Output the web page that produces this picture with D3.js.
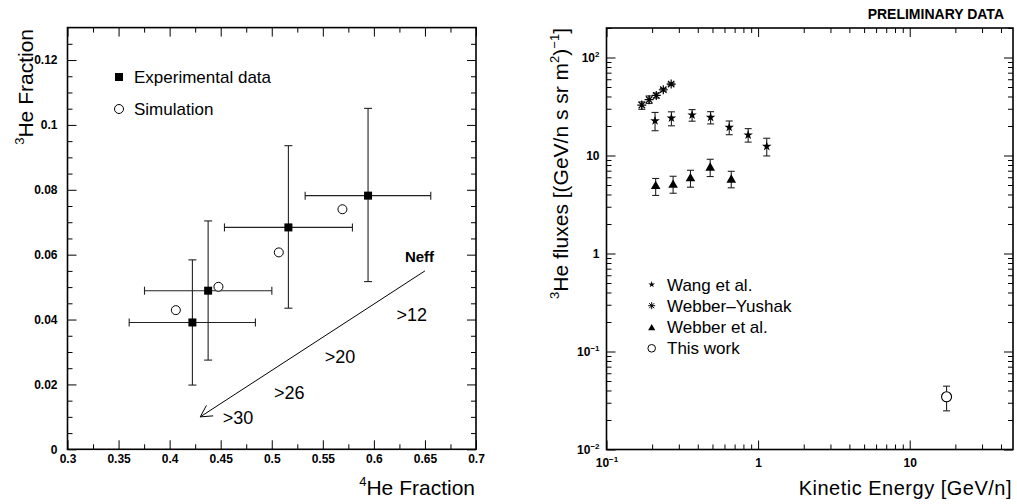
<!DOCTYPE html>
<html>
<head>
<meta charset="utf-8">
<script src="https://cdn.jsdelivr.net/npm/d3@7"></script>
<style>
  html, body { margin: 0; padding: 0; background: #fff; }
  svg { display: block; font-family: "Liberation Sans", Arial, Helvetica, sans-serif; }
  .tick text { font-family: "Liberation Sans", Arial, Helvetica, sans-serif; font-weight: bold; font-size: 12px; fill: #000; }
  .tick line { stroke: #000; stroke-width: 1; }
</style>
</head>
<body>
<svg class="chart" width="1017" height="504"></svg>
<script>
// ---- left panel: 3He fraction vs 4He fraction ----
const expHe4 = [0.4223, 0.4377, 0.5163, 0.5943];
const expHe3 = [0.0391, 0.0489, 0.0684, 0.0782];
const expHe4Lo = [0.3604, 0.3754, 0.4537, 0.5327];
const expHe4Hi = [0.4840, 0.5001, 0.5790, 0.6557];
const expHe3Lo = [0.0198, 0.0275, 0.0435, 0.0517];
const expHe3Hi = [0.0584, 0.0704, 0.0936, 0.1051];

const simHe4 = [0.4061, 0.4478, 0.5069, 0.5692];
const simHe3 = [0.0429, 0.0501, 0.0607, 0.0740];

const neffLabels = ['>12', '>20', '>26', '>30'];
const neffX = [0.6222, 0.552, 0.5021, 0.4519];
const neffY = [0.0396, 0.0265, 0.0155, 0.0077];
const arrowFrom = [0.65, 0.055];
const arrowTo = [0.43, 0.0100];

const he4Ticks = [0.3, 0.35, 0.4, 0.45, 0.5, 0.55, 0.6, 0.65, 0.7];
const he4Minor = [0.325, 0.375, 0.425, 0.475, 0.525, 0.575, 0.625, 0.675];
const he3Ticks = [0, 0.02, 0.04, 0.06, 0.08, 0.1, 0.12];
const he3Minor = [0.005, 0.01, 0.015, 0.025, 0.03, 0.035, 0.045, 0.05, 0.055,
  0.065, 0.07, 0.075, 0.085, 0.09, 0.095, 0.105, 0.11, 0.115, 0.125];

// ---- right panel: 3He fluxes vs kinetic energy ----
const wangE = [0.209, 0.268, 0.367, 0.486, 0.645, 0.86, 1.14];
const wangFlux = [22.6, 24.1, 25.9, 24.5, 19.4, 16.2, 12.4];
const wangHi = [27.5, 27.9, 29.4, 28.0, 22.5, 18.8, 15.0];
const wangLo = [17.9, 20.1, 22.4, 21.0, 16.3, 13.7, 9.9];

const yushakE = [0.171, 0.191, 0.213, 0.237, 0.267];
const yushakFlux = [32.7, 37.1, 41.0, 46.9, 53.6];
const yushakHi = [35.2, 40.5, 43.4, 48.4, 55.0];
const yushakLo = [29.6, 34.0, 38.6, 45.4, 52.2];

const webberE = [0.211, 0.275, 0.358, 0.483, 0.665];
const webberFlux = [4.86, 5.0, 5.82, 7.47, 5.64];
const webberHi = [5.83, 6.14, 7.07, 9.15, 6.90];
const webberLo = [3.91, 4.12, 4.75, 6.10, 4.68];

const thisE = [17.5];
const thisFlux = [0.0345];
const thisHi = [0.0443];
const thisLo = [0.0248];

const energyTicks = [0.1, 1, 10];
const fluxTicks = [0.01, 0.1, 1, 10, 100];

const svg = d3.select('.chart');

const xL = d3.scaleLinear().domain([0.3, 0.7]).range([67.5, 476]);
const yL = d3.scaleLinear().domain([0, 0.13]).range([449.3, 27.6]);
const xR = d3.scaleLog().domain([0.1, 48]).range([606.5, 1013]);
const yR = d3.scaleLog().domain([0.01, 200]).range([449.5, 28]);

function powerLabel(text, d) {
  const e = Math.round(Math.log10(d));
  text.text(null);
  if (e === 0) { text.text('1'); return; }
  if (e === 1) { text.text('10'); return; }
  text.append('tspan').text('10');
  text.append('tspan').attr('dy', -5).attr('font-size', '8px').text(e < 0 ? `\u2212${-e}` : e);
}

function drawAxes(g, x, y, cfg) {
  const [x0, x1] = x.range();
  const [y0, y1] = y.range();
  const sides = [
    { axis: d3.axisBottom, scale: x, pos: `translate(0,${y0})`, major: cfg.xMajor, minor: cfg.xMinor, pad: cfg.xPad, fmt: cfg.xFmt },
    { axis: d3.axisTop, scale: x, pos: `translate(0,${y1})`, major: cfg.xMajor, minor: cfg.xMinor },
    { axis: d3.axisLeft, scale: y, pos: `translate(${x0},0)`, major: cfg.yMajor, minor: cfg.yMinor, pad: cfg.yPad, fmt: cfg.yFmt },
    { axis: d3.axisRight, scale: y, pos: `translate(${x1},0)`, major: cfg.yMajor, minor: cfg.yMinor },
  ];
  sides.forEach((s) => {
    const a = g.append('g').attr('transform', s.pos);
    a.append('g')
      .call(s.axis(s.scale).tickValues(s.minor).tickSize(-5).tickFormat(() => ''));
    const major = a.append('g')
      .call(s.axis(s.scale).tickValues(s.major).tickSize(-9).tickPadding(s.pad || 0)
        .tickFormat(s.fmt && !cfg.log ? s.fmt : () => ''));
    if (s.fmt && cfg.log) {
      major.selectAll('.tick text').each(function (d) { powerLabel(d3.select(this), d); });
    }
    a.selectAll('.domain').remove();
  });
  g.append('rect')
    .attr('x', x0).attr('y', y1)
    .attr('width', x1 - x0).attr('height', y0 - y1)
    .attr('fill', 'none').attr('stroke', '#000').attr('stroke-width', 1.6);
}

function errorBars(g, pts, cap, vertical) {
  const bars = g.append('g').attr('stroke', '#222').attr('stroke-width', 1.1);
  pts.forEach((p) => {
    if (vertical) {
      bars.append('line').attr('x1', p.c).attr('x2', p.c).attr('y1', p.lo).attr('y2', p.hi);
      bars.append('line').attr('x1', p.c - cap).attr('x2', p.c + cap).attr('y1', p.lo).attr('y2', p.lo);
      bars.append('line').attr('x1', p.c - cap).attr('x2', p.c + cap).attr('y1', p.hi).attr('y2', p.hi);
    } else {
      bars.append('line').attr('y1', p.c).attr('y2', p.c).attr('x1', p.lo).attr('x2', p.hi);
      bars.append('line').attr('y1', p.c - cap).attr('y2', p.c + cap).attr('x1', p.lo).attr('x2', p.lo);
      bars.append('line').attr('y1', p.c - cap).attr('y2', p.c + cap).attr('x1', p.hi).attr('x2', p.hi);
    }
  });
}

function asterisk(r) {
  const q = r * 0.7071;
  return `M${-r},0L${r},0M0,${-r}L0,${r}M${-q},${-q}L${q},${q}M${-q},${q}L${q},${-q}`;
}

// title with superscripts; size is the font size in px
function supText(sel, parts, size) {
  const lift = Math.round(size * 0.42);
  let raised = false;
  sel.attr('font-size', size);
  parts.forEach((p) => {
    if (p.sup) {
      sel.append('tspan').attr('dy', raised ? 0 : -lift).attr('font-size', Math.round(size * 0.62)).text(p.sup);
      raised = true;
    } else {
      sel.append('tspan').attr('dy', raised ? lift : 0).text(p.t);
      raised = false;
    }
  });
}

// ================= left panel =================
const left = svg.append('g');
drawAxes(left, xL, yL, {
  xMajor: he4Ticks, xMinor: he4Minor, xPad: 5, xFmt: d => String(+d.toFixed(2)),
  yMajor: he3Ticks, yMinor: he3Minor, yPad: 10, yFmt: d => String(+d.toFixed(2)),
});

const expPts = expHe4.map((v, i) => ({
  x: xL(v), y: yL(expHe3[i]),
  x0: xL(expHe4Lo[i]), x1: xL(expHe4Hi[i]),
  y0: yL(expHe3Lo[i]), y1: yL(expHe3Hi[i]),
}));
errorBars(left, expPts.map(p => ({ c: p.y, lo: p.x0, hi: p.x1 })), 4, false);
errorBars(left, expPts.map(p => ({ c: p.x, lo: p.y0, hi: p.y1 })), 4, true);

left.selectAll('.sim')
  .data(simHe4)
  .enter()
  .append('circle')
  .attr('cx', d => xL(d))
  .attr('cy', (d, i) => yL(simHe3[i]))
  .attr('r', 4.5)
  .attr('fill', '#fff')
  .attr('stroke', '#000')
  .attr('stroke-width', 1);

left.selectAll('.exp')
  .data(expPts)
  .enter()
  .append('rect')
  .attr('x', d => d.x - 4)
  .attr('y', d => d.y - 4)
  .attr('width', 8)
  .attr('height', 8)
  .attr('fill', '#000');

// Neff arrow
const ax0 = xL(arrowFrom[0]);
const ay0 = yL(arrowFrom[1]);
const ax1 = xL(arrowTo[0]);
const ay1 = yL(arrowTo[1]);
const ang = Math.atan2(ay0 - ay1, ax0 - ax1);
const headLen = 13;
left.append('path')
  .attr('d', `M${ax0},${ay0}L${ax1},${ay1}`
    + `M${ax1 + headLen * Math.cos(ang + 0.5)},${ay1 + headLen * Math.sin(ang + 0.5)}L${ax1},${ay1}`
    + `L${ax1 + headLen * Math.cos(ang - 0.5)},${ay1 + headLen * Math.sin(ang - 0.5)}`)
  .attr('fill', 'none')
  .attr('stroke', '#000')
  .attr('stroke-width', 1);

left.append('text')
  .attr('x', xL(0.6304)).attr('y', yL(0.0578))
  .attr('font-size', 15).attr('font-weight', 'bold')
  .text('Neff');

left.selectAll('.neff')
  .data(neffLabels)
  .enter()
  .append('text')
  .attr('x', (d, i) => xL(neffX[i]))
  .attr('y', (d, i) => yL(neffY[i]))
  .attr('font-size', 18)
  .text(d => d);

// legend
left.append('rect').attr('x', 115).attr('y', 73).attr('width', 8).attr('height', 8).attr('fill', '#000');
left.append('text').attr('x', 134).attr('y', 83).attr('font-size', 17).text('Experimental data');
left.append('circle').attr('cx', 119).attr('cy', 109).attr('r', 4.5)
  .attr('fill', '#fff').attr('stroke', '#000');
left.append('text').attr('x', 134).attr('y', 115).attr('font-size', 17).text('Simulation');

// titles
const l4 = left.append('text').attr('x', 475).attr('y', 495).attr('text-anchor', 'end');
supText(l4, [{ sup: '4' }, { t: 'He Fraction' }], 21);
const l3 = left.append('text').attr('transform', 'translate(33,29) rotate(-90)').attr('text-anchor', 'end');
supText(l3, [{ sup: '3' }, { t: 'He Fraction' }], 21);

// ================= right panel =================
const right = svg.append('g');
drawAxes(right, xR, yR, {
  log: true,
  xMajor: energyTicks, xMinor: xR.ticks().filter(d => !energyTicks.includes(d)), xPad: 9, xFmt: true,
  yMajor: fluxTicks, yMinor: yR.ticks().filter(d => !fluxTicks.includes(d)), yPad: 7, yFmt: true,
});

const seriesPts = (es, fs, his, los) => es.map((e, i) => ({
  x: xR(e), y: yR(fs[i]), hi: yR(his[i]), lo: yR(los[i]),
}));
const wangPts = seriesPts(wangE, wangFlux, wangHi, wangLo);
const yushakPts = seriesPts(yushakE, yushakFlux, yushakHi, yushakLo);
const webberPts = seriesPts(webberE, webberFlux, webberHi, webberLo);
const thisPts = seriesPts(thisE, thisFlux, thisHi, thisLo);

[wangPts, yushakPts, webberPts, thisPts].forEach((pts) => {
  errorBars(right, pts.map(p => ({ c: p.x, lo: p.lo, hi: p.hi })), 3.5, true);
});

right.selectAll('.wang')
  .data(wangPts)
  .enter()
  .append('path')
  .attr('transform', d => `translate(${d.x},${d.y})`)
  .attr('d', d3.symbol(d3.symbolStar, 28))
  .attr('fill', '#000');

right.selectAll('.yushak')
  .data(yushakPts)
  .enter()
  .append('path')
  .attr('transform', d => `translate(${d.x},${d.y})`)
  .attr('d', asterisk(4.5))
  .attr('stroke', '#000')
  .attr('stroke-width', 1.2);

right.selectAll('.webber')
  .data(webberPts)
  .enter()
  .append('path')
  .attr('transform', d => `translate(${d.x},${d.y})`)
  .attr('d', d3.symbol(d3.symbolTriangle, 40))
  .attr('fill', '#000');

right.selectAll('.this')
  .data(thisPts)
  .enter()
  .append('circle')
  .attr('cx', d => d.x)
  .attr('cy', d => d.y)
  .attr('r', 5)
  .attr('fill', '#fff')
  .attr('stroke', '#000')
  .attr('stroke-width', 1.1);

// legend
const legendRows = [
  { label: 'Wang et al.', y: 284.5 },
  { label: 'Webber\u2013Yushak', y: 305.7 },
  { label: 'Webber et al.', y: 327.2 },
  { label: 'This work', y: 348.3 },
];
right.append('path').attr('transform', `translate(651.7,${legendRows[0].y})`)
  .attr('d', d3.symbol(d3.symbolStar, 14)).attr('fill', '#000');
right.append('path').attr('transform', `translate(651.7,${legendRows[1].y})`)
  .attr('d', asterisk(3.5)).attr('stroke', '#000').attr('stroke-width', 1);
right.append('path').attr('transform', `translate(651.7,${legendRows[2].y + 1})`)
  .attr('d', d3.symbol(d3.symbolTriangle, 22)).attr('fill', '#000');
right.append('circle').attr('cx', 651.7).attr('cy', legendRows[3].y).attr('r', 3.8)
  .attr('fill', '#fff').attr('stroke', '#000');
right.selectAll('.legend')
  .data(legendRows)
  .enter()
  .append('text')
  .attr('x', 667)
  .attr('y', d => d.y + 6)
  .attr('font-size', 17)
  .text(d => d.label);

// titles
right.append('text')
  .attr('x', 1012).attr('y', 495)
  .attr('font-size', 20).attr('text-anchor', 'end')
  .attr('letter-spacing', 0.5)
  .text('Kinetic Energy [GeV/n]');
const fluxTitle = right.append('text').attr('transform', 'translate(568,28) rotate(-90)')
  .attr('text-anchor', 'end');
supText(fluxTitle, [{ sup: '3' }, { t: 'He fluxes [(GeV/n s sr m' }, { sup: '2' }, { t: ')' }, { sup: '\u22121' }, { t: ']' }], 21);

right.append('text')
  .attr('x', 1004).attr('y', 19)
  .attr('font-size', 14).attr('font-weight', 'bold').attr('text-anchor', 'end')
  .text('PRELIMINARY DATA');
</script>
</body>
</html>
